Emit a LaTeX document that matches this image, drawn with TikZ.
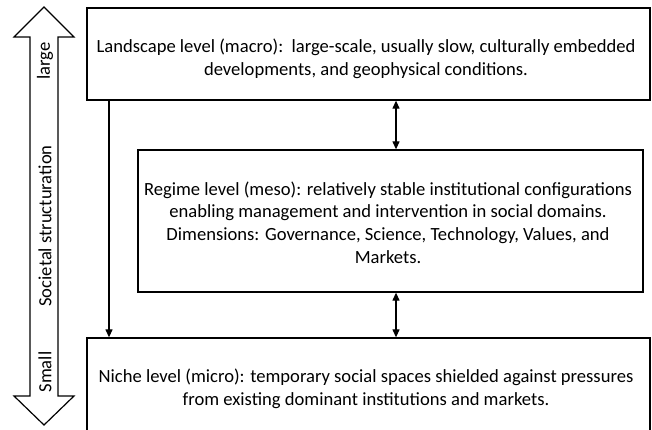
\documentclass[tikz,border=0pt]{standalone}
\usepackage{fontspec}
\setmainfont{Carlito}
\usetikzlibrary{arrows.meta}
\begin{document}
\begin{tikzpicture}[x=1pt,y=-1pt,
  lvlbox/.style={draw, line width=1.3pt, inner sep=0pt},
  lvltext/.style={align=center, inner sep=0pt, font=\fontsize{18.6}{22.8}\selectfont},
  conn/.style={line width=1.2pt, -{Triangle[length=8pt,width=7pt]}},
  dconn/.style={line width=1.2pt, {Triangle[length=8pt,width=7pt]}-{Triangle[length=8pt,width=7pt]}},
  sidelabel/.style={rotate=90, inner sep=0pt, font=\fontsize{18.6}{20}\selectfont}]
\useasboundingbox (0,0) rectangle (652,430);
% big double arrow
\draw[line width=1.2pt, line join=miter]
  (44,7) -- (74,37) -- (58,37) -- (58,396) -- (74,396) -- (44,425)
  -- (14,396) -- (30,396) -- (30,37) -- (14,37) -- cycle;
\node[sidelabel] (lg) at (45,61) {large};
\node[sidelabel] (ss) at (45,226) {Societal structuration};
\node[sidelabel] (sm) at (45,372) {Small};
% boxes
\node[lvlbox, minimum width=563pt, minimum height=92pt] (L) at (368.5,54) {};
\node[lvltext] (Lt) at (366,58.5)
  {Landscape level (macro):\ \ large-scale, usually slow, culturally embedded\\ developments, and geophysical conditions.};
\node[lvlbox, minimum width=505pt, minimum height=142pt] (R) at (390.5,221) {};
\node[lvltext] (Rt) at (388,222.5)
  {Regime level (meso): relatively stable institutional configurations\\ enabling management and intervention in social domains.\\ Dimensions: Governance, Science, Technology, Values, and\\ Markets.};
\node[lvlbox, minimum width=563pt, minimum height=102pt] (N) at (368.5,389) {};
\node[lvltext] (Nt) at (366,389)
  {Niche level (micro): temporary social spaces shielded against pressures\\ from existing dominant institutions and markets.};
% connectors
\coordinate (lx) at (109,0);
\coordinate (mx) at (396,0);
\draw[conn] (L.south -| lx) -- (N.north -| lx);
\draw[dconn] (L.south -| mx) -- (R.north -| mx);
\draw[dconn] (R.south -| mx) -- (N.north -| mx);
\end{tikzpicture}
\end{document}
